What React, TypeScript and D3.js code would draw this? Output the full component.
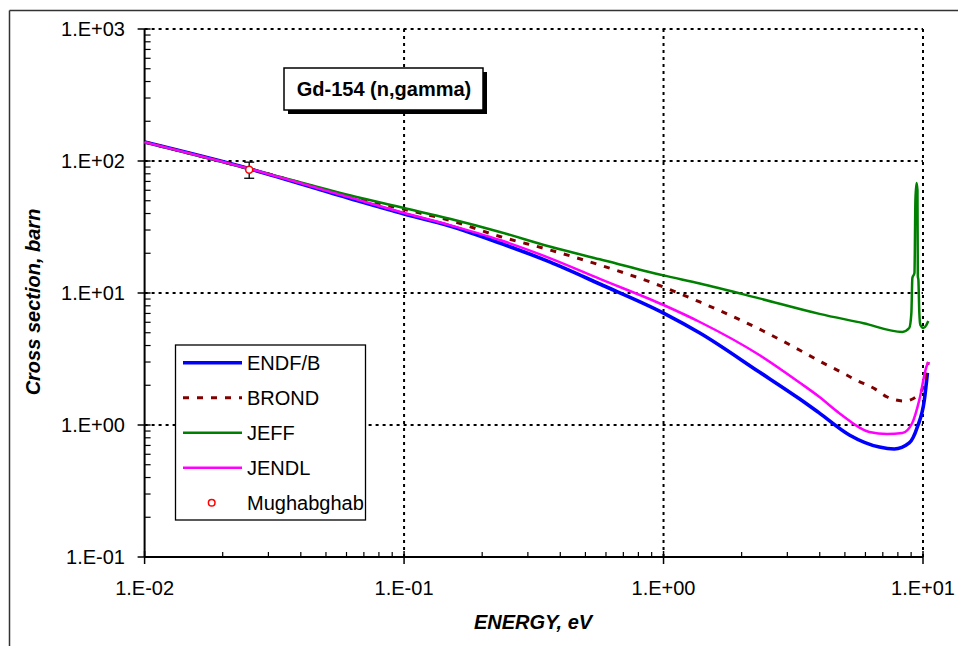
import React from "react";
import * as d3 from "d3";

const xTicks = [0.01, 0.1, 1, 10];
const xTickLabels = ["1.E-02", "1.E-01", "1.E+00", "1.E+01"];
const yTicks = [0.1, 1, 10, 100, 1000];
const yTickLabels = ["1.E-01", "1.E+00", "1.E+01", "1.E+02", "1.E+03"];

const endfE = [0.01, 0.0255, 0.0617, 0.1, 0.15, 0.234, 0.364, 0.568, 1.0, 1.38, 2.34, 3.34, 3.99, 5.2, 6.79, 7.75, 8.85, 9.51, 10.12, 10.4];
const endfS = [139, 87, 52, 39.7, 32.2, 23.9, 17.2, 11.7, 7.05, 4.98, 2.52, 1.58, 1.23, 0.84, 0.68, 0.658, 0.731, 0.966, 1.55, 2.48];

const brondE = [0.01, 0.0255, 0.0617, 0.1, 0.15, 0.234, 0.364, 0.568, 1.0, 1.38, 2.34, 3.34, 3.99, 4.76, 5.52, 6.55, 7.28, 8.47, 9.51, 10.2, 10.48];
const brondS = [139, 87, 54, 43, 35.5, 26.8, 21.2, 16.3, 11.1, 8.55, 5.33, 3.7, 3.05, 2.56, 2.19, 1.87, 1.63, 1.52, 1.66, 2.19, 3.0];

const jeffE = [0.01, 0.0255, 0.0617, 0.1, 0.15, 0.234, 0.364, 0.568, 1.0, 1.38, 2.34, 3.99, 5.9, 8.32, 8.85, 9.02, 9.1, 9.27, 9.35, 9.44, 9.52, 9.55, 9.6, 9.68, 9.77, 10.03, 10.3, 10.48];
const jeffS = [139, 87, 55, 44, 36.5, 29, 22.5, 18.0, 13.6, 11.8, 9.1, 6.95, 5.9, 5.07, 5.43, 7.05, 13.0, 14.2, 50.7, 68.1, 60.3, 13.5, 12.5, 7.05, 5.72, 5.43, 5.72, 6.14];

const jendlE = [0.01, 0.0255, 0.0617, 0.1, 0.15, 0.234, 0.364, 0.568, 1.0, 1.38, 2.34, 3.34, 3.99, 4.76, 6.21, 7.28, 8.32, 9.1, 9.68, 10.3, 10.48];
const jendlS = [139, 87, 53, 40.4, 32.7, 25.2, 18.4, 12.8, 8.11, 6.03, 3.39, 2.1, 1.63, 1.23, 0.885, 0.855, 0.869, 1.04, 1.55, 2.75, 3.0];

const mughE = [0.0253];
const mughS = [86];
const mughErr = [12];

const seriesNames = ["ENDF/B", "BROND", "JEFF", "JENDL", "Mughabghab"];

const W = 958;
const H = 646;
const FONT = "'Liberation Sans', Arial, sans-serif";

export default function App() {
  const x = d3.scaleLog().domain([0.01, 10]).range([144.6, 923]);
  const y = d3.scaleLog().domain([0.1, 1000]).range([557, 29]);

  const mk = (E: number[], S: number[]) =>
    d3
      .line<number>()
      .x((_, i) => x(E[i]))
      .y((_, i) => y(S[i]))
      .curve(d3.curveMonotoneX)(S) || "";

  const series = [
    { name: seriesNames[0], d: mk(endfE, endfS), color: "#0000FF", width: 3.6, dash: undefined },
    { name: seriesNames[1], d: mk(brondE, brondS), color: "#800000", width: 3, dash: "6,8" },
    { name: seriesNames[2], d: mk(jeffE, jeffS), color: "#008000", width: 2.5, dash: undefined },
    { name: seriesNames[3], d: mk(jendlE, jendlS), color: "#FF00FF", width: 2.5, dash: undefined },
  ];

  const minorX: number[] = [];
  for (let k = 0; k < xTicks.length - 1; k++) for (let m = 2; m <= 9; m++) minorX.push(xTicks[k] * m);
  const minorY: number[] = [];
  for (let k = 0; k < yTicks.length - 1; k++) for (let m = 2; m <= 9; m++) minorY.push(yTicks[k] * m);

  const [x0, x1] = x.range();
  const [y0, y1] = y.range();

  const legX = 175.5, legY = 345, legW = 190, legH = 175;
  const rowY = (i: number) => 362.7 + i * 35;

  return (
    <svg
      width={W}
      height={H}
      style={{ position: "absolute", left: 0, top: 0, display: "block", background: "#fff" }}
      fontFamily={FONT}
    >
      <rect x={0} y={0} width={W} height={H} fill="#fff" />
      {/* outer chart frame */}
      <line x1={9.5} y1={10.5} x2={W} y2={10.5} stroke="#333" strokeWidth={1.5} />
      <line x1={9.5} y1={10.5} x2={9.5} y2={H} stroke="#333" strokeWidth={1.5} />

      {/* gridlines */}
      {xTicks.slice(1).map((t) => (
        <line key={"gx" + t} x1={x(t)} x2={x(t)} y1={y1} y2={y0} stroke="#000" strokeWidth={2} strokeDasharray="3,4" />
      ))}
      {yTicks.slice(1).map((t) => (
        <line key={"gy" + t} x1={x0} x2={x1} y1={y(t)} y2={y(t)} stroke="#000" strokeWidth={2} strokeDasharray="3,4" />
      ))}

      {/* axes */}
      <line x1={x0} x2={x0} y1={y1} y2={y0} stroke="#000" strokeWidth={2} />
      <line x1={x0} x2={x1} y1={y0} y2={y0} stroke="#000" strokeWidth={2} />
      {yTicks.map((t) => (
        <line key={"ty" + t} x1={x0 - 7} x2={x0 + 6} y1={y(t)} y2={y(t)} stroke="#000" strokeWidth={1.5} />
      ))}
      {minorY.map((t) => (
        <line key={"my" + t} x1={x0} x2={x0 + 6} y1={y(t)} y2={y(t)} stroke="#000" strokeWidth={1.2} />
      ))}
      {xTicks.map((t) => (
        <line key={"tx" + t} x1={x(t)} x2={x(t)} y1={y0 - 6} y2={y0 + 7} stroke="#000" strokeWidth={1.5} />
      ))}
      {minorX.map((t) => (
        <line key={"mx" + t} x1={x(t)} x2={x(t)} y1={y0 - 5} y2={y0} stroke="#000" strokeWidth={1.2} />
      ))}

      {/* tick labels */}
      {yTicks.map((t, i) => (
        <text key={"ly" + t} x={125} y={y(t)} dy="0.36em" textAnchor="end" fontSize={20} fill="#000">
          {yTickLabels[i]}
        </text>
      ))}
      {xTicks.map((t, i) => (
        <text key={"lx" + t} x={x(t)} y={595} textAnchor="middle" fontSize={20} fill="#000">
          {xTickLabels[i]}
        </text>
      ))}

      {/* axis titles */}
      <text x={533} y={629} textAnchor="middle" fontSize={20} fontWeight="bold" fontStyle="italic">
        ENERGY, eV
      </text>
      <text
        transform={`translate(40,${302}) rotate(-90)`}
        textAnchor="middle"
        fontSize={20}
        fontWeight="bold"
        fontStyle="italic"
      >
        Cross section, barn
      </text>

      {/* series */}
      {series.map((s) => (
        <path
          key={s.name}
          d={s.d}
          fill="none"
          stroke={s.color}
          strokeWidth={s.width}
          strokeDasharray={s.dash}
          strokeLinejoin="round"
        />
      ))}

      {/* Mughabghab point */}
      {mughE.map((e, i) => {
        const cx = x(e);
        const cy = y(mughS[i]);
        const yt = y(mughS[i] + mughErr[i]);
        const yb = y(mughS[i] - mughErr[i]);
        return (
          <g key={"m" + i}>
            <line x1={cx} x2={cx} y1={yt} y2={yb} stroke="#000" strokeWidth={1.3} />
            <line x1={cx - 5} x2={cx + 5} y1={yt} y2={yt} stroke="#000" strokeWidth={1.3} />
            <line x1={cx - 5} x2={cx + 5} y1={yb} y2={yb} stroke="#000" strokeWidth={1.3} />
            <circle cx={cx} cy={cy} r={3.5} fill="#fff" stroke="#FF0000" strokeWidth={1.5} />
          </g>
        );
      })}

      {/* title box */}
      <rect x={288} y={72} width={199} height={42} fill="#000" />
      <rect x={284} y={68} width={199} height={42} fill="#fff" stroke="#000" strokeWidth={1.5} />
      <text x={384} y={96} textAnchor="middle" fontSize={20} fontWeight="bold">
        Gd-154 (n,gamma)
      </text>

      {/* legend */}
      <rect x={legX} y={legY} width={legW} height={legH} fill="#fff" stroke="#000" strokeWidth={1.3} />
      {series.map((s, i) => (
        <g key={"leg" + s.name}>
          <line
            x1={183}
            x2={242}
            y1={rowY(i)}
            y2={rowY(i)}
            stroke={s.color}
            strokeWidth={s.width}
            strokeDasharray={s.dash}
          />
          <text x={247} y={rowY(i)} dy="0.36em" fontSize={20}>
            {s.name}
          </text>
        </g>
      ))}
      <circle cx={211.7} cy={rowY(4)} r={3.3} fill="#fff" stroke="#FF0000" strokeWidth={1.5} />
      <text x={247} y={rowY(4)} dy="0.36em" fontSize={20}>
        {seriesNames[4]}
      </text>
    </svg>
  );
}
